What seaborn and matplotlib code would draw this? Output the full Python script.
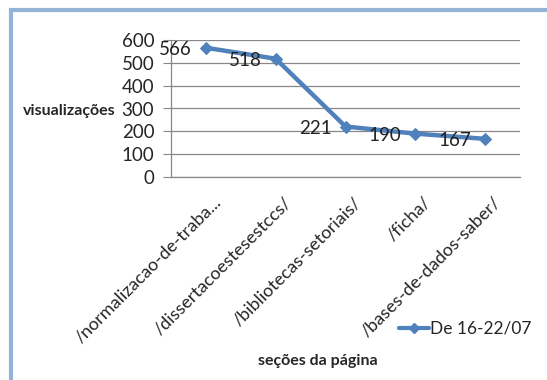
import matplotlib
matplotlib.use("Agg")
import matplotlib.pyplot as plt
from matplotlib.patches import Rectangle
from matplotlib.lines import Line2D
from matplotlib.transforms import ScaledTranslation
import pandas as pd
import seaborn as sns

# page sections and their view counts (week 16-22/07)
secoes = ["/normalizacao-de-traba...", "/dissertacoestesestccs/", "/bibliotecas-setoriais/",
          "/ficha/", "/bases-de-dados-saber/"]
visualizacoes = [566, 518, 221, 190, 167]
serie = "De 16-22/07"
yticks = [0, 100, 200, 300, 400, 500, 600]

sns.set_style("white")
plt.rcParams["font.family"] = ["Lato", "DejaVu Sans"]

azul = "#4F81BD"
cinza = "#888888"

df = pd.DataFrame({"secao": secoes, "views": visualizacoes})

fig = plt.figure(figsize=(5.47, 3.80), dpi=100)
ax = fig.add_axes([171/547, 1-177/380, (520-171)/547, (177-40)/380])

sns.lineplot(data=df, x="secao", y="views", ax=ax, color=azul, linewidth=3.2,
             marker="D", markersize=6, markeredgecolor=azul, sort=False)

ax.set_xlim(-0.5, len(secoes)-0.5)
ax.set_ylim(0, 600)
ax.set_yticks(yticks)
ax.set_yticklabels([str(v) for v in yticks], fontsize=13.5)
ax.yaxis.grid(True, color=cinza, linewidth=0.9)
ax.set_axisbelow(True)

ax.set_xticks(range(len(secoes)))
ax.set_xticklabels(secoes, rotation=45, ha="right", rotation_mode="anchor", fontsize=13)
ax.set_xticks([i-0.5 for i in range(len(secoes)+1)], minor=True)
ax.tick_params(axis="x", which="major", length=0, pad=8)
ax.tick_params(axis="x", which="minor", length=6, color=cinza, direction="out")
ax.tick_params(axis="y", length=6, color=cinza, direction="out", pad=6, left=True)

# shift rotated labels so their end sits right of the category centre, like Excel
shift = ScaledTranslation(7/100, -6/100, fig.dpi_scale_trans)
for lab in ax.get_xticklabels():
    lab.set_transform(lab.get_transform() + shift)

for s in ["top", "right"]:
    ax.spines[s].set_visible(False)
for s in ["left", "bottom"]:
    ax.spines[s].set_color(cinza)
    ax.spines[s].set_linewidth(0.9)

ax.set_xlabel("")
ax.set_ylabel("")

# data labels, placed to the left of each point
for i, v in enumerate(visualizacoes):
    ax.annotate(str(v), (i, v), xytext=(-10, -1.5), textcoords="offset points",
                ha="right", va="center", fontsize=13.5, color="#222222")

fig.text(116/547, 1-111/380, "visualizações", ha="right", va="center",
         fontsize=11.5, fontweight="bold")
fig.text(318/547, 1-361/380, "seções da página", ha="center", va="center",
         fontsize=11.5, fontweight="bold")

handle = Line2D([], [], color=azul, linewidth=3, marker="D", markersize=5)
fig.legend([handle], [serie], loc="center left", bbox_to_anchor=(399/547, 1-329/380),
           frameon=False, fontsize=12.5, handlelength=1.7, handletextpad=0.1,
           borderaxespad=0, borderpad=0)

fig.patches.append(Rectangle((11/547, -0.1), 1.2, 1.1-10/380, transform=fig.transFigure,
                             fill=False, edgecolor="#95B3D7", linewidth=3))

fig.savefig("out.png", dpi=100)
